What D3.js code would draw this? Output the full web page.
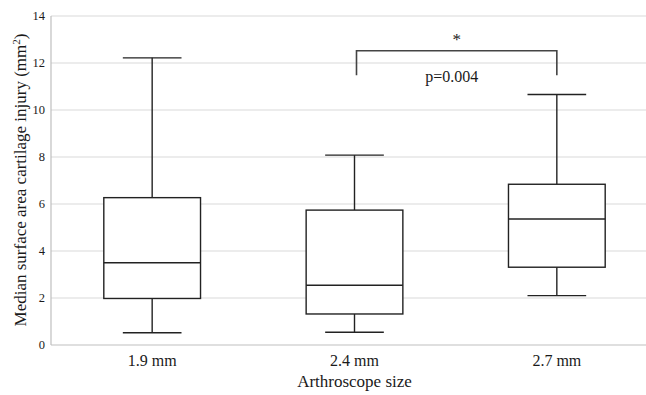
<!DOCTYPE html>
<html><head><meta charset="utf-8">
<script src="https://cdn.jsdelivr.net/npm/d3@7"></script>
<style>body{margin:0;background:#fff}svg{display:block}text{font-family:"Liberation Serif","Times New Roman",serif;fill:#1a1a1a}</style>
</head><body><svg id="c" width="646" height="395"></svg>
<script>
const categories = ["1.9 mm", "2.4 mm", "2.7 mm"];
const minVals    = [0.52, 0.54, 2.10];
const q1Vals     = [1.98, 1.32, 3.31];
const medianVals = [3.50, 2.54, 5.36];
const q3Vals     = [6.27, 5.74, 6.84];
const maxVals    = [12.22, 8.08, 10.66];
const yTicks = [0, 2, 4, 6, 8, 10, 12, 14];
const sigPair = ["2.4 mm", "2.7 mm"];
const sigTop = 12.52, sigLeg = 11.48;
const sigStar = "*", sigP = "p=0.004";

const svg = d3.select("#c");
const x = d3.scalePoint().domain(categories).range([51, 658]).padding(0.5);
const y = d3.scaleLinear().domain([0, 14]).range([345, 16]);
const step = x.step();
const bw = step * 0.478, cap = step * 0.145;

// gridlines
svg.append("g").selectAll("line").data(yTicks.filter(d => d > 0)).join("line")
  .attr("x1", 51).attr("x2", 646).attr("y1", d => y(d)).attr("y2", d => y(d))
  .attr("stroke", "#d9d9d9").attr("stroke-width", 1.2);
// axes lines
svg.append("line").attr("x1", 51).attr("x2", 646).attr("y1", y(0)).attr("y2", y(0)).attr("stroke", "#bfbfbf").attr("stroke-width", 1.2);
svg.append("line").attr("x1", 51).attr("x2", 51).attr("y1", y(0)).attr("y2", y(14)).attr("stroke", "#bfbfbf").attr("stroke-width", 1.2);

// y tick labels
svg.append("g").selectAll("text").data(yTicks).join("text")
  .attr("x", 45).attr("y", d => y(d)).attr("dy", "0.35em").attr("text-anchor", "end")
  .attr("font-size", 12.5).text(d => d);

// boxes
const data = categories.map((c, i) => ({c, min: minVals[i], q1: q1Vals[i], med: medianVals[i], q3: q3Vals[i], max: maxVals[i]}));
const g = svg.append("g").attr("stroke", "#222").attr("stroke-width", 1.4).attr("fill", "none");
const b = g.selectAll("g").data(data).join("g");
b.append("line").attr("x1", d => x(d.c)).attr("x2", d => x(d.c)).attr("y1", d => y(d.max)).attr("y2", d => y(d.q3));
b.append("line").attr("x1", d => x(d.c)).attr("x2", d => x(d.c)).attr("y1", d => y(d.q1)).attr("y2", d => y(d.min));
b.append("line").attr("x1", d => x(d.c) - cap).attr("x2", d => x(d.c) + cap).attr("y1", d => y(d.max)).attr("y2", d => y(d.max));
b.append("line").attr("x1", d => x(d.c) - cap).attr("x2", d => x(d.c) + cap).attr("y1", d => y(d.min)).attr("y2", d => y(d.min));
b.append("rect").attr("x", d => x(d.c) - bw / 2).attr("width", bw).attr("y", d => y(d.q3)).attr("height", d => y(d.q1) - y(d.q3)).attr("fill", "#fff");
b.append("line").attr("x1", d => x(d.c) - bw / 2).attr("x2", d => x(d.c) + bw / 2).attr("y1", d => y(d.med)).attr("y2", d => y(d.med));

// significance bracket
const xa = x(sigPair[0]) + 2, xb = x(sigPair[1]);
svg.append("path").attr("d", `M${xa},${y(sigLeg)}V${y(sigTop)}H${xb}V${y(sigLeg)}`)
  .attr("fill", "none").attr("stroke", "#444").attr("stroke-width", 1.6);
svg.append("text").attr("x", (xa + xb) / 2).attr("y", y(sigTop) - 6).attr("text-anchor", "middle").attr("font-size", 17).text(sigStar);
svg.append("text").attr("x", (xa + xb) / 2 - 5).attr("y", 82).attr("text-anchor", "middle").attr("font-size", 16).text(sigP);

// category labels
svg.append("g").selectAll("text").data(categories).join("text")
  .attr("x", d => x(d)).attr("y", 366).attr("text-anchor", "middle").attr("font-size", 16).text(d => d);

// axis titles
svg.append("text").attr("x", x(categories[1])).attr("y", 387).attr("text-anchor", "middle").attr("font-size", 17).text("Arthroscope size");
const yt = svg.append("text").attr("transform", `translate(26,180) rotate(-90)`).attr("text-anchor", "middle").attr("font-size", 17);
yt.append("tspan").text("Median surface area cartilage injury (mm");
yt.append("tspan").attr("font-size", 11).attr("dy", -6).text("2");
yt.append("tspan").attr("dy", 6).text(")");
</script></body></html>
